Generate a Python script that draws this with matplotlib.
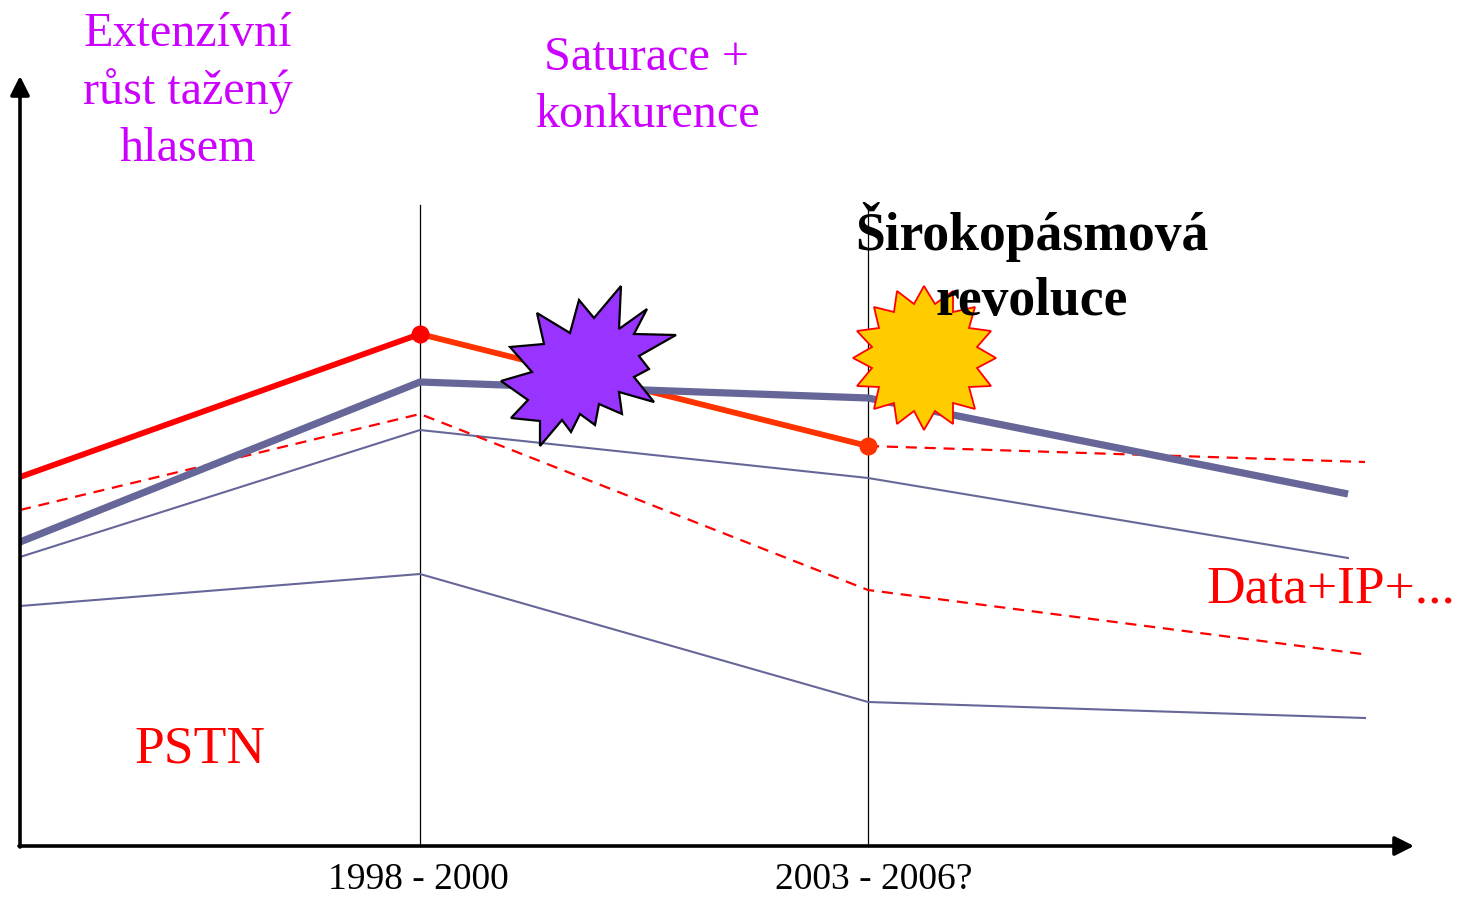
import numpy as np
import matplotlib.pyplot as plt
from matplotlib.patches import Polygon

plt.rcParams['font.family'] = ['Liberation Serif', 'DejaVu Sans']

W, H = 1459, 897

# values, pixels from the axis origin
period_labels = ['1998 - 2000', '2003 - 2006?']
period_x = [400, 848]

x_pstn = [0, 400, 848]
pstn_top = [369, 512, 400]

x_bold = [0, 400, 848, 1328]
bold_blue = [304, 464, 448, 352]

x_thin_upper = [0, 400, 848, 1328]
thin_upper = [289, 416, 368, 288]

x_thin_lower = [0, 400, 848, 1345]
thin_lower = [240, 272, 144, 128]

x_dash_a = [0, 400, 848, 1342]
dash_a = [336, 432, 256, 192]

x_dash_b = [848, 1345]
dash_b = [400, 384]

# star outlines, image pixels
burst_x = [621, 619, 647, 634, 676, 639, 649, 634, 654, 619, 622, 599, 595, 580, 571, 562, 540, 540, 511, 528, 501, 532, 510, 544, 537, 570, 579, 594]
burst_y = [286, 329, 309, 334, 335, 356, 369, 377, 402, 392, 414, 404, 425, 414, 432, 420, 446, 421, 418, 400, 381, 372, 347, 344, 313, 333, 300, 318]
sun_x = [924, 935, 953, 953, 975, 969, 991, 977, 996, 977, 991, 969, 975, 953, 953, 935, 924, 914, 897, 894, 874, 879, 857, 872, 853, 872, 857, 879, 874, 894, 897, 914]
sun_y = [286, 304, 291, 312, 307, 328, 331, 347, 358, 368, 386, 387, 409, 403, 424, 411, 430, 411, 424, 403, 409, 387, 386, 368, 358, 347, 331, 328, 307, 312, 291, 304]

BLUE = '#666699'
PURPLE = '#CC00FF'

fig = plt.figure(figsize=(W / 100, H / 100), dpi=100)
ax = fig.add_axes([0, 0, 1, 1])
ax.set_xlim(-20, W - 20)
ax.set_ylim(-51, H - 51)
ax.axis('off')

def px(xs, ys):
    return [(x - 20, 846 - y) for x, y in zip(xs, ys)]

def label(x_px, baseline_px, s, **kw):
    # one line of text, placed on its baseline
    ax.text(x_px - 20, 846 - baseline_px, s, ha='center', va='baseline', zorder=9, **kw)

# period markers
for x in period_x:
    ax.plot([x, x], [0, 641], color='black', lw=0.9, zorder=2)

# thin lines
ax.plot(x_thin_upper, thin_upper, color=BLUE, lw=1.5, zorder=3)
ax.plot(x_thin_lower, thin_lower, color=BLUE, lw=1.5, zorder=3)
ax.plot(x_dash_a, dash_a, color='#FF0000', lw=1.6, ls=(0, (5, 3.5)), zorder=3)
ax.plot(x_dash_b, dash_b, color='#FF0000', lw=1.6, ls=(0, (5, 3.5)), zorder=3)

# thick lines
ax.plot(x_pstn[:2], pstn_top[:2], color='#FF0000', lw=4.2, zorder=4, solid_capstyle='butt')
ax.plot(x_pstn[1:], pstn_top[1:], color='#FF3300', lw=4.2, zorder=4, solid_capstyle='butt')
ax.plot(x_bold, bold_blue, color=BLUE, lw=5.2, zorder=5, solid_capstyle='butt')
ax.plot(x_pstn[2], pstn_top[2], 'o', color='#FF3300', ms=13, mec='none', zorder=6)
ax.plot(x_pstn[1], pstn_top[1], 'o', color='#FF0000', ms=13, mec='none', zorder=6)

# stars
ax.add_patch(Polygon(px(burst_x, burst_y), closed=True, fc='#9933FF', ec='black', lw=1.6, zorder=7))
ax.add_patch(Polygon(px(sun_x, sun_y), closed=True, fc='#FFCC00', ec='#FF0000', lw=1.3, zorder=7))

# axes arrows
arrow = dict(arrowstyle='-|>,head_length=1.15,head_width=0.58', mutation_scale=10, color='black',
             lw=2.6, shrinkA=0, shrinkB=0)
ax.annotate('', xy=(1394, 0), xytext=(-1, 0), zorder=8, arrowprops=arrow)
ax.annotate('', xy=(0, 770), xytext=(0, -1), zorder=8, arrowprops=arrow)

# texts
for base, line in zip([46, 104, 161], ['Extenzívní', 'růst tažený', 'hlasem']):
    label(188, base, line, color=PURPLE, fontsize=34.7)
for base, line in zip([70, 127], ['Saturace +', 'konkurence']):
    label(647, base, line, color=PURPLE, fontsize=34.7)
for base, line in zip([250, 315], ['Širokopásmová', 'revoluce']):
    label(1032, base, line, color='black', fontsize=38.6, fontweight='bold')
label(1331, 602, 'Data+IP+...', color='#FF0000', fontsize=38.5)
label(200, 762, 'PSTN', color='#FF0000', fontsize=38.5)
for x, s in zip([418, 874], period_labels):
    label(x, 889, s, color='black', fontsize=27)

fig.savefig('out.png', dpi=100)
